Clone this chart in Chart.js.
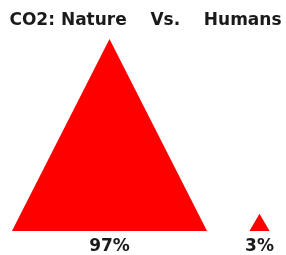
<!DOCTYPE html>
<html>
<head>
<meta charset="utf-8">
<script src="https://cdn.jsdelivr.net/npm/chart.js@4"></script>
<style>
  html, body { margin: 0; padding: 0; background: #ffffff; }
  #wrap { width: 286px; height: 255px; }
</style>
</head>
<body>
<div id="wrap"><canvas id="c" width="286" height="255"></canvas></div>
<script>
const titleText = 'CO2: Nature    Vs.    Humans';
const categories = ['Nature', 'Humans'];
const tickLabels = ['97%', '3%'];
const shares = [97, 3];

const triangles = {
  id: 'triangles',
  afterDatasetsDraw(chart) {
    const ctx = chart.ctx;
    const yScale = chart.scales.y;
    const baseY = yScale.getPixelForValue(yScale.min);
    const meta = chart.getDatasetMeta(0);
    ctx.save();
    ctx.fillStyle = '#ff0000';
    meta.data.forEach(el => {
      const h = baseY - el.y;
      const half = h / 2 + 1.5;
      ctx.beginPath();
      ctx.moveTo(el.x - half, baseY);
      ctx.lineTo(el.x, el.y);
      ctx.lineTo(el.x + half, baseY);
      ctx.closePath();
      ctx.fill();
    });
    ctx.restore();
  }
};

new Chart(document.getElementById('c'), {
  type: 'bar',
  data: {
    datasets: [{
      label: 'CO2 share',
      data: shares.map((v, i) => ({ x: i, y: v })),
      backgroundColor: 'rgba(0,0,0,0)',
      borderWidth: 0
    }]
  },
  options: {
    responsive: false,
    animation: false,
    layout: { padding: { left: 5, right: 0, top: 0, bottom: -7 } },
    plugins: {
      legend: { display: false },
      tooltip: { enabled: false },
      title: {
        display: true,
        text: titleText,
        color: '#1a1a1a',
        font: { family: 'DejaVu Sans', size: 17, weight: 'bold' },
        padding: { top: 10.5, bottom: 8 }
      }
    },
    scales: {
      x: {
        type: 'linear',
        offset: false,
        min: -0.6967,
        max: 1.1767,
        grid: { display: false, drawTicks: false, offset: false },
        border: { display: false },
        afterBuildTicks: axis => { axis.ticks = categories.map((c, i) => ({ value: i })); },
        ticks: {
          callback: (v, i) => tickLabels[i],
          color: '#1a1a1a',
          font: { family: 'DejaVu Sans', size: 17, weight: 'bold' },
          padding: 5.3,
          maxRotation: 0,
          autoSkip: false
        }
      },
      y: {
        display: false,
        min: -6.2,
        max: 97
      }
    }
  },
  plugins: [triangles]
});
</script>
</body>
</html>
